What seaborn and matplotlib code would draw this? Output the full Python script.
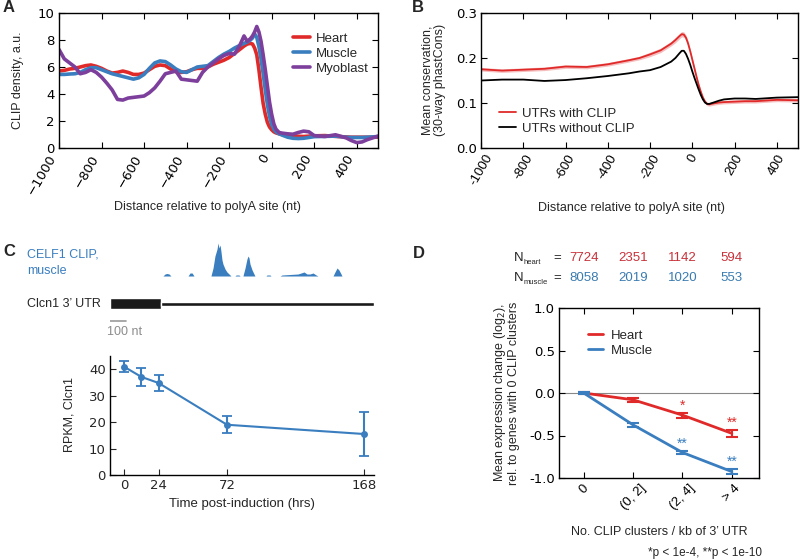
import numpy as np
import pandas as pd
import matplotlib
matplotlib.use("Agg")
import matplotlib.pyplot as plt
import matplotlib.transforms as mtransforms
import seaborn as sns

# ---------------- data ----------------
# panel A: CLIP density around the polyA site
a_pos = [-1000, -975, -950, -925, -900, -875, -850, -825, -800, -775, -750, -725,
         -700, -675, -650, -625, -600, -575, -550, -525, -500, -475, -450, -425,
         -400, -375, -350, -325, -300, -275, -250, -225, -200, -175, -150, -130,
         -115, -100, -90, -80, -70, -60, -50, -40, -30, -20, -10, 0, 10, 20, 35,
         50, 75, 100, 125, 150, 175, 200, 250, 300, 350, 375, 400, 425, 450, 500]
a_heart = [5.7, 5.75, 5.85, 5.9, 6.0, 6.1, 6.15, 6.05, 5.9, 5.7, 5.55, 5.6,
           5.7, 5.6, 5.45, 5.45, 5.55, 5.8, 6.05, 6.15, 6.1, 5.85, 5.65, 5.6,
           5.65, 5.8, 5.9, 5.9, 6.0, 6.2, 6.35, 6.5, 6.7, 7.0, 7.3, 7.55,
           7.7, 7.75, 7.7, 7.4, 6.9, 5.8, 4.5, 3.3, 2.5, 1.9, 1.55, 1.35, 1.2, 1.12, 1.05,
           1.0, 0.95, 0.9, 0.87, 0.85, 0.88, 0.9, 0.92, 0.86, 0.82, 0.8, 0.8, 0.8, 0.8, 0.8]
a_muscle = [5.45, 5.45, 5.48, 5.5, 5.6, 5.8, 5.95, 5.95, 5.8, 5.65, 5.5, 5.4,
            5.3, 5.2, 5.1, 5.2, 5.45, 5.9, 6.3, 6.45, 6.4, 6.15, 5.85, 5.65,
            5.6, 5.8, 6.0, 6.05, 6.1, 6.4, 6.7, 6.95, 7.15, 7.4, 7.6, 7.75,
            7.85, 8.0, 8.15, 8.45, 8.2, 7.5, 6.6, 5.5, 4.3, 3.2, 2.35, 1.75, 1.4, 1.2, 1.05,
            0.95, 0.8, 0.72, 0.7, 0.72, 0.78, 0.84, 0.86, 0.88, 0.8, 0.78, 0.78, 0.78, 0.8, 0.85]
a_myoblast = [7.3, 6.6, 6.3, 6.0, 5.5, 5.6, 5.8, 5.6, 5.25, 4.8, 4.3, 3.6,
              3.55, 3.7, 3.75, 3.8, 3.85, 4.1, 4.45, 4.95, 5.5, 5.6, 5.7, 5.1,
              5.05, 5.0, 4.95, 5.6, 6.0, 6.3, 6.6, 6.85, 7.0, 6.95, 7.6, 8.3,
              7.9, 8.1, 8.3, 8.6, 9.0, 8.6, 7.9, 6.9, 5.8, 4.6, 3.4, 2.5, 1.8, 1.4, 1.15,
              1.1, 1.05, 1.02, 1.15, 1.25, 1.2, 0.92, 0.85, 0.98, 0.75, 0.55, 0.4, 0.45, 0.62, 0.88]

# panel B: mean phastCons conservation
b_pos = [-1000, -900, -800, -700, -600, -500, -400, -300, -250, -200, -150, -100,
         -80, -60, -50, -40, -30, -20, -10, 0, 10, 20, 30, 40, 50, 60, 70, 80,
         100, 125, 150, 200, 250, 300, 400, 500]
b_with = [0.175, 0.172, 0.174, 0.176, 0.181, 0.180, 0.186, 0.195, 0.200, 0.208, 0.217, 0.232,
          0.240, 0.249, 0.253, 0.252, 0.245, 0.232, 0.215, 0.196, 0.177, 0.158, 0.140, 0.125,
          0.112, 0.103, 0.098, 0.097, 0.099, 0.101, 0.102, 0.103, 0.104, 0.104, 0.107, 0.106]
b_with_sem = [0.004, 0.004, 0.004, 0.004, 0.004, 0.004, 0.004, 0.004, 0.004, 0.005, 0.005, 0.005,
              0.006, 0.006, 0.006, 0.006, 0.006, 0.006, 0.005, 0.005, 0.005, 0.004, 0.004, 0.004,
              0.004, 0.004, 0.004, 0.004, 0.004, 0.004, 0.004, 0.004, 0.004, 0.004, 0.004, 0.004]
b_without = [0.150, 0.152, 0.152, 0.149, 0.151, 0.155, 0.160, 0.166, 0.170, 0.173, 0.180, 0.192,
             0.200, 0.211, 0.216, 0.216, 0.209, 0.198, 0.185, 0.170, 0.156, 0.143, 0.130, 0.118,
             0.108, 0.101, 0.098, 0.098, 0.101, 0.105, 0.108, 0.110, 0.110, 0.109, 0.112, 0.113]
b_xticks = [-1000, -800, -600, -400, -200, 0, 200, 400]
b_xticklabels = ["-1000", "-800", "-600", "-400", "-200", "0", "200", "400"]

# panel C: CLIP track on the Clcn1 3' UTR and RPKM time course
c_track_nt = [331, 344, 356, 369, 381, 488, 500, 513, 525,
              631, 644, 656, 669, 675, 681, 688, 694, 700, 706, 719, 731, 744, 756,
              781, 788, 806, 813, 831, 844, 856, 863, 869, 875, 888, 900, 906,
              975, 981, 1000, 1006, 1063, 1075, 1125, 1175, 1194, 1213, 1231, 1250,
              1269, 1288, 1300, 1394, 1406, 1419, 1431, 1444, 1450]
c_track_depth = [0, 2, 2.5, 2, 0, 0, 3, 3, 0,
                 0, 8, 20, 27, 33, 28, 31, 24, 16, 12, 7, 4, 2, 0,
                 0, 1, 1, 0, 0, 8, 17, 20, 18, 12, 6, 2, 0,
                 0, 1, 1, 0, 0, 1, 1.5, 2, 3, 4, 2, 2,
                 3, 1, 0, 0, 4, 8, 6, 2, 0]
c_utr_len = 1650
c_thick_len = 320
c_scale_nt = 100
c_time = [0, 12, 24, 72, 168]
c_rpkm = [40.9, 37.1, 34.8, 19.0, 15.5]
c_rpkm_err = [2.1, 3.5, 3.2, 3.2, 8.3]

# panel D: expression change vs CLIP cluster density
d_bins = ["0", "(0, 2]", "(2, 4]", "> 4"]
d_heart = [0.0, -0.08, -0.26, -0.475]
d_heart_err = [0.01, 0.02, 0.03, 0.04]
d_muscle = [0.0, -0.375, -0.70, -0.925]
d_muscle_err = [0.01, 0.02, 0.02, 0.03]
d_heart_stars = ["", "", "*", "**"]
d_muscle_stars = ["", "", "**", "**"]
d_n_heart = [7724, 2351, 1142, 594]
d_n_muscle = [8058, 2019, 1020, 553]
d_yticks = [-1.0, -0.5, 0.0, 0.5, 1.0]
d_yticklabels = ["-1.0", "-0.5", "0.0", "0.5", "1.0"]

RED = "#e02a2a"
BLUE = "#3a7ebf"
PURPLE = "#7d3f9c"
NRED = "#c8303a"
NBLUE = "#3a7bb0"

sns.set_style("ticks")
plt.rcParams["font.family"] = ["Liberation Sans", "DejaVu Sans"]
plt.rcParams["font.size"] = 9
plt.rcParams["xtick.direction"] = "in"
plt.rcParams["ytick.direction"] = "in"
plt.rcParams["axes.linewidth"] = 1.0
plt.rcParams["axes.edgecolor"] = "black"

W, H = 800, 560
fig = plt.figure(figsize=(8, 5.6), dpi=100)


def px_axes(l, t, r, b):
    return fig.add_axes([l / W, 1 - b / H, (r - l) / W, (b - t) / H])


def ftext(x, y, s, **kw):
    return fig.text(x / W, 1 - y / H, s, **kw)


def box_ticks(ax):
    ax.tick_params(top=True, right=True, length=4, width=0.8, colors="black",
                   labelsize=9.5, pad=3)


def dejavu_ticks(labels):
    for lab in labels:
        lab.set_fontfamily("DejaVu Sans")


# ---------------- panel A ----------------
ax_a = px_axes(59, 13, 378, 148)
df_a = pd.DataFrame({
    "pos": a_pos * 3,
    "density": a_heart + a_muscle + a_myoblast,
    "tissue": ["Heart"] * len(a_pos) + ["Muscle"] * len(a_pos) + ["Myoblast"] * len(a_pos),
})
sns.lineplot(data=df_a, x="pos", y="density", hue="tissue",
             palette=[RED, BLUE, PURPLE], linewidth=2.6, ax=ax_a)
ax_a.set_xlim(-1000, 500)
ax_a.set_ylim(0, 10)
ax_a.set_xticks(range(-1000, 401, 200))
ax_a.set_yticks(range(0, 11, 2))
box_ticks(ax_a)
plt.setp(ax_a.get_xticklabels(), rotation=60, ha="right")
dejavu_ticks(ax_a.get_xticklabels() + ax_a.get_yticklabels())
ax_a.set_xlabel("")
ax_a.set_ylabel("")
ax_a.legend(frameon=False, loc="upper left", bbox_to_anchor=(286 / W, 1 - 26 / H),
            bbox_transform=fig.transFigure, handlelength=1.3, handletextpad=0.5,
            labelspacing=0.2, borderpad=0, fontsize=9.5)
ftext(18, 80, "CLIP density, a.u.", rotation=90, ha="center", va="center")
ftext(207, 207, "Distance relative to polyA site (nt)", ha="center", va="center")

# ---------------- panel B ----------------
ax_b = px_axes(481, 13, 798, 148)
lo = np.array(b_with) - np.array(b_with_sem)
hi = np.array(b_with) + np.array(b_with_sem)
ax_b.fill_between(b_pos, lo, hi, color=RED, alpha=0.3, lw=0)
sns.lineplot(x=b_pos, y=b_with, color=RED, linewidth=1.3, label="UTRs with CLIP", ax=ax_b)
sns.lineplot(x=b_pos, y=b_without, color="black", linewidth=1.3,
             label="UTRs without CLIP", ax=ax_b)
ax_b.set_xlim(-1000, 500)
ax_b.set_ylim(0, 0.3)
ax_b.set_xticks(b_xticks)
ax_b.set_xticklabels(b_xticklabels, rotation=60, ha="center")
ax_b.set_yticks([0.0, 0.1, 0.2, 0.3])
ax_b.set_yticklabels(["0.0", "0.1", "0.2", "0.3"])
box_ticks(ax_b)
dejavu_ticks(ax_b.get_yticklabels())
ax_b.legend(frameon=False, loc="upper left", bbox_to_anchor=(492 / W, 1 - 101 / H),
            bbox_transform=fig.transFigure, handlelength=1.3, handletextpad=0.5,
            labelspacing=0.2, borderpad=0, fontsize=9.5)
ftext(434, 80, "Mean conservation,\n(30-way phastCons)", rotation=90,
      ha="center", va="center", multialignment="center", linespacing=1.1)
ftext(631, 208, "Distance relative to polyA site (nt)", ha="center", va="center")

# ---------------- panel C: track + gene model ----------------
ax_t = px_axes(110, 242, 374, 276)
ax_t.fill_between(c_track_nt, c_track_depth, color=BLUE, lw=0)
ax_t.set_xlim(0, c_utr_len)
ax_t.set_ylim(0, 34)
ax_t.axis("off")

ax_g = px_axes(110, 290, 374, 340)
ax_g.set_xlim(0, c_utr_len)
ax_g.set_ylim(50, 0)
ax_g.barh(13.5, c_thick_len, left=0, height=11, color="#1a1a1a")
ax_g.barh(14, c_utr_len - c_thick_len, left=c_thick_len, height=4.5, color="#1a1a1a")
ax_g.plot([0, c_scale_nt], [31, 31], color="#999999", lw=1.2)
ax_g.axis("off")

ftext(27, 255, "CELF1 CLIP,", color=BLUE, ha="left", va="center")
ftext(27, 271, "muscle", color=BLUE, ha="left", va="center")
ftext(27, 304, "Clcn1 3\u2019 UTR", ha="left", va="center")
ftext(107, 332, "100 nt", color="#8c8c8c", ha="left", va="center")

# ---------------- panel C: time course ----------------
ax_c = px_axes(110, 356, 374, 475)
sns.lineplot(x=c_time, y=c_rpkm, color=BLUE, marker="o", markersize=5,
             markeredgewidth=0, linewidth=1.5, ax=ax_c)
ax_c.errorbar(c_time, c_rpkm, yerr=c_rpkm_err, fmt="none", ecolor=BLUE,
              elinewidth=1.5, capsize=3.5, capthick=1.3)
ax_c.set_xlim(-10, 175)
ax_c.set_ylim(0, 45)
ax_c.set_xticks([0, 24, 72, 168])
ax_c.set_yticks(range(0, 41, 10))
sns.despine(ax=ax_c)
ax_c.tick_params(length=4, width=0.8, labelsize=9.5, pad=3)
dejavu_ticks(ax_c.get_xticklabels() + ax_c.get_yticklabels())
ftext(70, 415, "RPKM, Clcn1", rotation=90, ha="center", va="center")
ftext(242, 504, "Time post-induction (hrs)", ha="center", va="center", fontsize=9.5)

# ---------------- panel D ----------------
ax_d = px_axes(559, 308, 759, 478)
xi = np.arange(len(d_bins))
ax_d.axhline(0, color="#888888", lw=0.8, zorder=0)
sns.lineplot(x=xi, y=d_heart, color=RED, linewidth=2, label="Heart", ax=ax_d)
sns.lineplot(x=xi, y=d_muscle, color=BLUE, linewidth=2, label="Muscle", ax=ax_d)
ax_d.errorbar(xi, d_heart, yerr=d_heart_err, fmt="none", ecolor=RED,
              elinewidth=1.5, capsize=4, capthick=1.5)
ax_d.errorbar(xi, d_muscle, yerr=d_muscle_err, fmt="none", ecolor=BLUE,
              elinewidth=1.5, capsize=4, capthick=1.5)
for i in xi:
    if d_heart_stars[i]:
        ax_d.text(i, d_heart[i] + d_heart_err[i] + 0.08, d_heart_stars[i],
                  color=RED, ha="center", va="center", fontsize=10)
    if d_muscle_stars[i]:
        ax_d.text(i, d_muscle[i] + d_muscle_err[i] + 0.08, d_muscle_stars[i],
                  color=BLUE, ha="center", va="center", fontsize=10)
ax_d.set_xlim(-0.5, 3.55)
ax_d.set_ylim(-1, 1)
ax_d.set_xticks(xi)
ax_d.set_xticklabels(d_bins, rotation=45, ha="center")
ax_d.set_yticks(d_yticks)
ax_d.set_yticklabels(d_yticklabels)
box_ticks(ax_d)
dejavu_ticks(ax_d.get_yticklabels())
ax_d.legend(frameon=False, loc="upper left", bbox_to_anchor=(581 / W, 1 - 323 / H),
            bbox_transform=fig.transFigure, handlelength=1.2, handletextpad=0.6,
            labelspacing=0.2, borderpad=0, fontsize=9.5)

trans = mtransforms.blended_transform_factory(ax_d.transData, fig.transFigure)
for i in xi:
    ax_d.text(i, 1 - 258 / H, str(d_n_heart[i]), color=NRED, ha="center",
              va="center", transform=trans, fontsize=9.5)
    ax_d.text(i, 1 - 278 / H, str(d_n_muscle[i]), color=NBLUE, ha="center",
              va="center", transform=trans, fontsize=9.5)
for y, sub in [(258, "heart"), (278, "muscle")]:
    ftext(514, y, "N", ha="left", va="center", fontsize=9.5)
    ftext(524, y + 5, sub, ha="left", va="center", fontsize=5.5)
    ftext(557, y, "=", ha="center", va="center", fontsize=9.5)

ftext(506, 393, "Mean expression change (log$_2$),\nrel. to genes with 0 CLIP clusters",
      rotation=90, ha="center", va="center", multialignment="center", linespacing=1.1)
ftext(659, 532, "No. CLIP clusters / kb of 3\u2019 UTR", ha="center", va="center")
ftext(762, 553, "*p < 1e-4, **p < 1e-10", ha="right", va="center", fontsize=8.5)

# panel letters
for letter, x, y in [("A", 3, 8), ("B", 412, 8), ("C", 3, 252), ("D", 413, 253)]:
    ftext(x, y, letter, fontsize=12, weight="bold", ha="left", va="center")

fig.savefig("out.png", dpi=100)
plt.close(fig)
